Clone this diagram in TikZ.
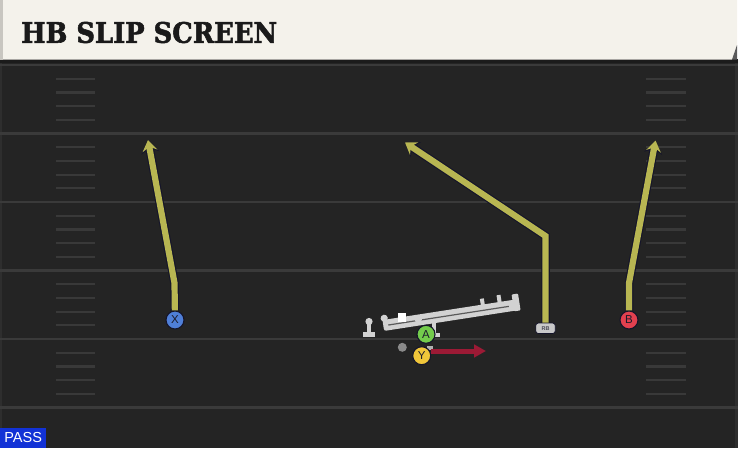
\documentclass[tikz,border=0pt]{standalone}
\usepackage{fontspec}
\usetikzlibrary{arrows.meta}
\newfontfamily\titlefont{DejaVu Serif}[UprightFont={* Bold}, FakeBold=2]
\newfontfamily\labfont{Liberation Sans}
\definecolor{fieldbg}{HTML}{242424}
\definecolor{edgecol}{HTML}{2E2E2E}
\definecolor{yardcol}{HTML}{3A3A3A}
\definecolor{hashcol}{HTML}{393939}
\definecolor{cream}{HTML}{F4F2EB}
\definecolor{creamedge}{HTML}{C8C6C0}
\definecolor{foldcol}{HTML}{5A5A5A}
\definecolor{bandcol}{HTML}{1B1B1B}
\definecolor{titlecol}{HTML}{1A1A1A}
\definecolor{routeyel}{HTML}{B8B652}
\definecolor{outl}{HTML}{15152A}
\definecolor{redroute}{HTML}{9C1A35}
\definecolor{xblue}{HTML}{4F7FD8}
\definecolor{bred}{HTML}{E2404F}
\definecolor{agreen}{HTML}{74CC4C}
\definecolor{yyellow}{HTML}{F0C63A}
\definecolor{txtdark}{HTML}{1B1B2B}
\definecolor{sledcol}{HTML}{D2D2D2}
\definecolor{groove}{HTML}{5A5A5A}
\definecolor{dotgrey}{HTML}{8A8A8A}
\definecolor{rbfill}{HTML}{C9C9C9}
\definecolor{passblue}{HTML}{1232D6}
\begin{document}
\begin{tikzpicture}[x=1pt,y=-1pt,
  yard/.style={draw=yardcol, line width=2.4pt},
  hashmark/.style={draw=hashcol, line width=2.2pt},
  player/.style={circle, draw=outl, line width=1.1pt, minimum size=18pt, inner sep=0pt,
    font=\labfont\fontsize{11.5}{11.5}\selectfont, text=txtdark},
  routeout/.style={draw=outl, line width=8.5pt, -{Stealth[length=13pt,width=18pt,inset=4.5pt]}},
  routein/.style={draw=routeyel, line width=6.2pt, -{Stealth[length=11pt,width=15pt,inset=4pt]}},
  redarrow/.style={draw=redroute, line width=5pt, -{Triangle[length=12pt,width=12.5pt]}},
  rbbox/.style={rectangle, rounded corners=2.5pt, minimum width=19.5pt, minimum height=10.5pt,
    fill=rbfill, draw=outl, line width=0.8pt, inner sep=0pt,
    font=\labfont\bfseries\fontsize{5.5}{5.5}\selectfont, text=txtdark!80},
  passbox/.style={fill=passblue, anchor=south west, minimum width=46pt, minimum height=20pt,
    inner sep=0pt, text=white, font=\labfont\fontsize{14.5}{14.5}\selectfont},
]
\useasboundingbox (0,0) rectangle (738,448);
% field
\fill[fieldbg] (0,59) rectangle (738,448);
\fill[edgecol] (0,59) rectangle (2,448);
\fill[edgecol] (735,59) rectangle (738,448);
\fill[bandcol] (0,59) rectangle (738,63);
% yard lines
\foreach \yl in {65,133.5,202,270.5,339,407.5} {
  \draw[yard] (0,\yl) -- (738,\yl);
}
% hash marks
\foreach \yl in {65,133.5,202,270.5,339} {
  \foreach \k in {1,...,4} {
    \draw[hashmark] (56,\yl+13.7*\k) -- (95,\yl+13.7*\k);
    \draw[hashmark] (646,\yl+13.7*\k) -- (686,\yl+13.7*\k);
  }
}
% header
\fill[cream] (0,0) -- (737,0) -- (737,45) -- (732,59.5) -- (0,59.5) -- cycle;
\fill[creamedge] (0,0) rectangle (2.5,59.5);
\fill[foldcol] (732,59.5) -- (737,45) -- (737,59.5) -- cycle;
\node[anchor=west, inner sep=0pt, text=titlecol] (title) at (21,32.5)
  {\resizebox{256pt}{21pt}{\titlefont HB SLIP SCREEN}};
% left post
\fill[sledcol] (369,321.5) circle (3.6);
\fill[sledcol] (367.2,321.5) rectangle (371,333);
\fill[sledcol] (363.3,332.3) rectangle (375,336.5);
% sled
\begin{scope}[shift={(383.3,325.5)}, rotate=8.8]
  \fill[sledcol, rounded corners=2pt] (0,-5.5) rectangle (136,5.5);
  \draw[groove, line width=1.2pt] (5,0.3) -- (127,0.3);
  \fill[sledcol] (99.5,-11.5) rectangle (103.5,-3);
  \fill[sledcol] (116.5,-12.5) rectangle (120.5,-3);
  \fill[sledcol, rounded corners=1pt] (131.5,-11) rectangle (138,6);
  \fill[sledcol] (2,-7) circle (3.6);
\end{scope}
\fill[white] (397.7,313.3) rectangle (405.7,321.7);
\fill[sledcol] (418.3,319.5) circle (3.6);
% second post under A
\fill[sledcol] (431.8,322) rectangle (435.6,334);
\fill[sledcol] (430,332.5) rectangle (440,336.5);
\fill[sledcol!85!black] (427,345.5) rectangle (433,350);
\fill[dotgrey] (402.3,347.3) circle (4.5);
% players
\node[player, fill=xblue] (X) at (175,320) {X};
\node[player, fill=bred] (B) at (629,320) {B};
\node[player, fill=agreen] (A) at (426,334.3) {A};
\node[rbbox] (RB) at (545.5,328.3) {RB};
% route coordinates
\coordinate (xbend) at (174.5,283);
\coordinate (xend) at (148,140);
\coordinate (rbbend) at (545.5,236);
\coordinate (rbend) at (405,142.5);
\coordinate (bbend) at (629,283);
\coordinate (bend) at (655.5,140.5);
\coordinate (yend) at (486,351);
% routes
\draw[routeout] (X) -- (xbend) -- (xend);
\draw[routein] (X) -- (xbend) -- (xend);
\draw[routeout] (RB) -- (rbbend) -- (rbend);
\draw[routein] (RB) -- (rbbend) -- (rbend);
\draw[routeout] (B) -- (bbend) -- (bend);
\draw[routein] (B) -- (bbend) -- (bend);
\node[player, fill=yyellow] (Y) at (421.7,355.7) {Y};
\draw[redarrow] (Y.east |- yend) -- (yend);
% pass label
\node[passbox] (pass) at (0,448) {PASS};
\end{tikzpicture}
\end{document}
